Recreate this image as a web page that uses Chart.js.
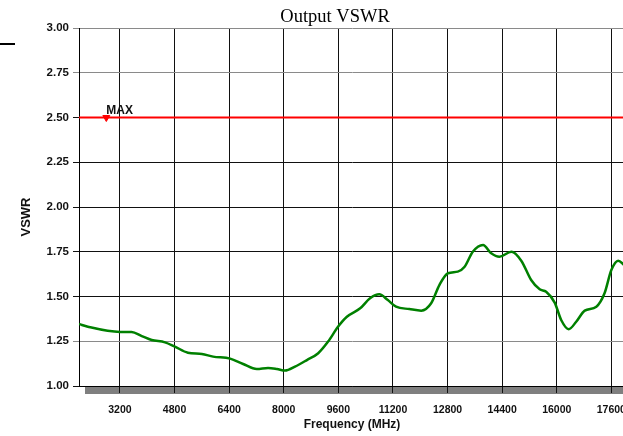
<!DOCTYPE html>
<html>
<head>
<meta charset="utf-8">
<script src="https://cdn.jsdelivr.net/npm/chart.js@4.4.1/dist/chart.umd.min.js"></script>
<style>
  html, body { margin: 0; padding: 0; background: #fff; overflow: hidden; }
  #wrap { position: relative; width: 670px; height: 436px; }
</style>
</head>
<body>
<div id="wrap"><canvas id="chart"></canvas></div>
<script>
// Output VSWR vs frequency
const freqMHz = [
  2000, 2260, 3200, 3540, 3840, 4130, 4520, 4810, 5190, 5600,
  5930, 6430, 6810, 7210, 7540, 7800, 8040, 8330, 8680, 9010,
  9300, 9590, 9850, 10240, 10530, 10800, 11050, 11290, 11680, 12030,
  12320, 12560, 12810, 13100, 13300, 13540, 13840, 14080, 14320, 14670,
  14960, 15250, 15500, 15690, 15940, 16130, 16350, 16570, 16820, 17160,
  17400, 17600, 17800, 17980
];
const vswr = [
  1.346, 1.331, 1.302, 1.302, 1.279, 1.257, 1.244, 1.220, 1.186, 1.179,
  1.164, 1.153, 1.123, 1.095, 1.101, 1.095, 1.086, 1.108, 1.145, 1.183,
  1.248, 1.331, 1.387, 1.434, 1.490, 1.512, 1.480, 1.443, 1.430, 1.421,
  1.462, 1.564, 1.630, 1.639, 1.666, 1.750, 1.788, 1.741, 1.722, 1.750,
  1.700, 1.592, 1.540, 1.527, 1.466, 1.369, 1.317, 1.359, 1.421, 1.443,
  1.518, 1.648, 1.700, 1.676
];

const xTicks = [3200, 4800, 6400, 8000, 9600, 11200, 12800, 14400, 16000, 17600];
const yTicks = [1.00, 1.25, 1.50, 1.75, 2.00, 2.25, 2.50, 2.75, 3.00];
const grayRows = [1.25, 2.75, 3.00];

const maxLimit = 2.5;
const maxMarkerFreq = 2800;
const xMin = 2000;
const xMax = 18000;

const chartTitle = 'Output VSWR';
const yTitle = 'VSWR';
const xTitle = 'Frequency (MHz)';

const sans = '"Liberation Sans", Arial, sans-serif';

const decor = {
  id: 'decor',
  beforeDraw(chart) {
    const { ctx, chartArea: a } = chart;
    ctx.save();
    // shadow under the x axis
    ctx.fillStyle = '#7f7f7f';
    ctx.fillRect(a.left + 6, a.bottom + 1, a.right - a.left, 7);
    // stray mark at top left
    ctx.fillStyle = '#000';
    ctx.fillRect(0, 43, 15, 2);
    ctx.restore();
  },
  afterDraw(chart) {
    const { ctx, scales } = chart;
    ctx.save();
    // title
    ctx.fillStyle = '#000';
    ctx.font = '18.5px "Liberation Serif", "Times New Roman", serif';
    ctx.textAlign = 'center';
    ctx.textBaseline = 'alphabetic';
    ctx.fillText(chartTitle, 335, 22);
    // MAX label
    ctx.fillStyle = '#111';
    ctx.font = 'bold 12px ' + sans;
    ctx.textBaseline = 'middle';
    ctx.textAlign = 'left';
    ctx.fillText('MAX', scales.x.getPixelForValue(maxMarkerFreq), scales.y.getPixelForValue(maxLimit) - 7);
    // y axis title
    ctx.translate(26, 217);
    ctx.rotate(-Math.PI / 2);
    ctx.textAlign = 'center';
    ctx.font = 'bold 13px ' + sans;
    ctx.fillText(yTitle, 0, 0);
    ctx.restore();
  },
};

new Chart(document.getElementById('chart'), {
  type: 'line',
  data: {
    datasets: [
      {
        label: 'VSWR',
        data: freqMHz.map((f, i) => ({ x: f, y: vswr[i] })),
        borderColor: '#008000',
        borderWidth: 2.5,
        pointRadius: 0,
        cubicInterpolationMode: 'monotone',
        fill: false,
      },
      {
        label: 'MAX',
        data: [{ x: xMin, y: maxLimit }, { x: xMax, y: maxLimit }],
        borderColor: '#ff0000',
        borderWidth: 2,
        pointRadius: 0,
        fill: false,
      },
      {
        label: 'MAX marker',
        data: [{ x: maxMarkerFreq, y: maxLimit }],
        showLine: false,
        pointStyle: 'triangle',
        rotation: 180,
        pointRadius: 4,
        backgroundColor: '#ff0000',
        borderColor: '#ff0000',
        borderWidth: 1,
      },
    ],
  },
  options: {
    responsive: true,
    maintainAspectRatio: false,
    animation: false,
    layout: { padding: { left: 0, right: 45, top: 28, bottom: 0 } },
    plugins: {
      legend: { display: false },
      tooltip: { enabled: false },
      title: { display: false },
    },
    scales: {
      x: {
        type: 'linear',
        min: xMin,
        max: xMax,
        afterBuildTicks: (axis) => { axis.ticks = xTicks.map((v) => ({ value: v })); },
        afterFit: (s) => { s.height = 50; },
        ticks: {
          color: '#111',
          font: { family: sans, size: 10.5, weight: 'bold' },
          padding: 11,
          maxRotation: 0,
          autoSkip: false,
          callback: (v) => String(v),
        },
        grid: { color: '#111', lineWidth: 1, tickLength: 7 },
        border: { display: true, color: '#000', width: 1 },
        title: {
          display: true,
          text: xTitle,
          color: '#111',
          font: { family: sans, size: 12, weight: 'bold' },
          padding: { top: 0, bottom: 4 },
        },
      },
      y: {
        min: 1,
        max: 3,
        afterBuildTicks: (axis) => { axis.ticks = yTicks.map((v) => ({ value: v })); },
        afterFit: (s) => { s.width = 79; },
        ticks: {
          color: '#111',
          font: { family: sans, size: 11.5, weight: 'bold' },
          padding: 4,
          callback: (v) => Number(v).toFixed(2),
        },
        grid: {
          color: (c) => (c.tick && grayRows.includes(c.tick.value) ? '#8a8a8a' : '#111'),
          lineWidth: 1,
          tickLength: 6,
        },
        border: { display: true, color: '#000', width: 1 },
      },
    },
  },
  plugins: [decor],
});
</script>
</body>
</html>
